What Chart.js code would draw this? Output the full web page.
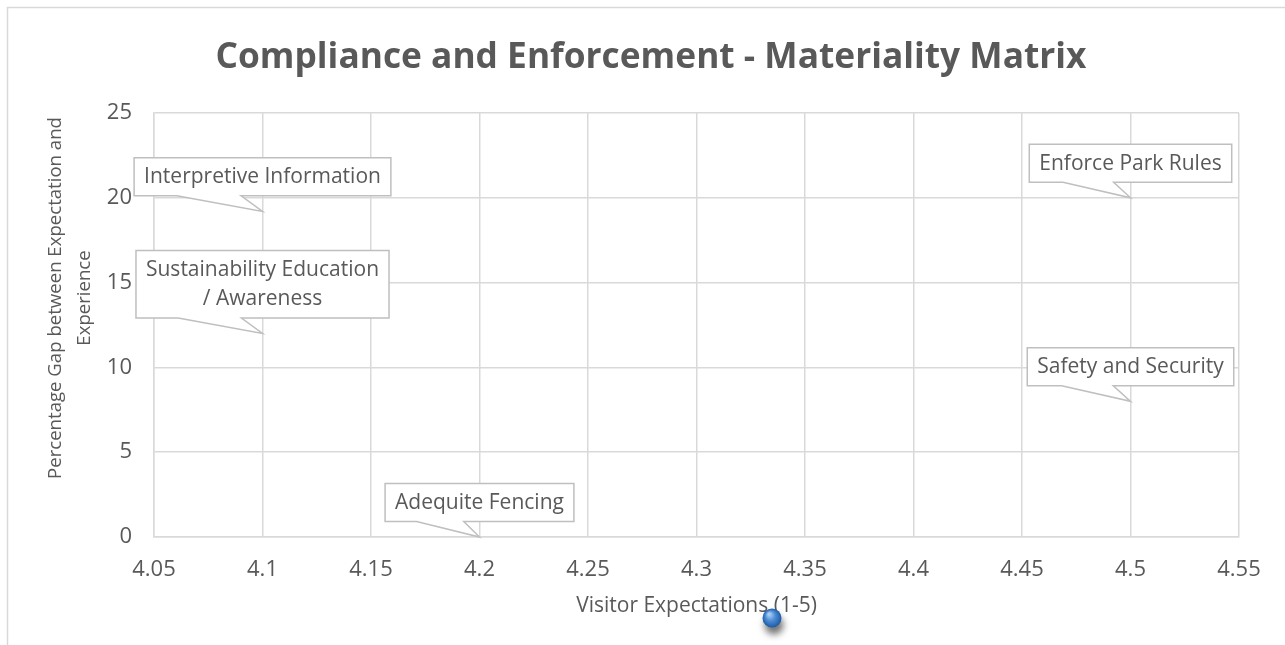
<!DOCTYPE html>
<html>
<head>
<meta charset="utf-8">
<title>Compliance and Enforcement - Materiality Matrix</title>
<script src="https://cdn.jsdelivr.net/npm/chart.js@4.4.1/dist/chart.umd.min.js"></script>
<style>
  html, body { margin: 0; padding: 0; background: #ffffff; }
  #wrap { width: 1285px; height: 645px; position: relative; }
  canvas { display: block; }
</style>
</head>
<body>
<div id="wrap"><canvas id="matrix" width="1285" height="645"></canvas></div>
<script>
// Issues surveyed, their visitor expectation score and the gap (%) to experience
const issueNames = [
  'Interpretive Information',
  'Sustainability Education / Awareness',
  'Adequite Fencing',
  'Enforce Park Rules',
  'Safety and Security'
];
const visitorExpectation = [4.1, 4.1, 4.2, 4.5, 4.5];
const gapPercent = [19.2, 12, 0, 20, 8];

// Axis ticks
const xTickValues = [4.05, 4.1, 4.15, 4.2, 4.25, 4.3, 4.35, 4.4, 4.45, 4.5, 4.55];
const xTickLabels = ['4.05', '4.1', '4.15', '4.2', '4.25', '4.3', '4.35', '4.4', '4.45', '4.5', '4.55'];
const yTickValues = [0, 5, 10, 15, 20, 25];
const yTickLabels = ['0', '5', '10', '15', '20', '25'];

const chartTitle = 'Compliance and Enforcement - Materiality Matrix';
const xAxisTitle = 'Visitor Expectations (1-5)';
const yAxisTitle = ['Percentage Gap between Expectation and', 'Experience'];

const FONT = '"Open Sans", "DejaVu Sans", sans-serif';
const TEXT = '#595959';
const GRID = '#d9d9d9';

// Frame, title and axis titles
const decorPlugin = {
  id: 'decor',
  beforeDraw(chart) {
    const ctx = chart.ctx;
    ctx.save();
    ctx.fillStyle = '#ffffff';
    ctx.fillRect(0, 0, chart.width, chart.height);
    ctx.strokeStyle = GRID;
    ctx.lineWidth = 1.5;
    ctx.beginPath();
    ctx.moveTo(7.5, chart.height);
    ctx.lineTo(7.5, 7.5);
    ctx.lineTo(chart.width, 7.5);
    ctx.stroke();
    ctx.restore();
  },
  afterDraw(chart) {
    const ctx = chart.ctx;
    const area = chart.chartArea;
    ctx.save();
    ctx.fillStyle = TEXT;
    ctx.textAlign = 'center';
    ctx.textBaseline = 'middle';
    ctx.font = 'bold 35.3px ' + FONT;
    ctx.fillText(chartTitle, 651, 58);

    ctx.font = '21px ' + FONT;
    ctx.fillText(xAxisTitle, (area.left + area.right) / 2, 606);

    ctx.font = '18.6px ' + FONT;
    ctx.translate(70, 298);
    ctx.rotate(-Math.PI / 2);
    ctx.fillText(yAxisTitle[0], 0, -14);
    ctx.fillText(yAxisTitle[1], 0, 15);
    ctx.restore();

    // small glossy marker under the axis title
    ctx.save();
    const cx = 772, cy = 618, r = 9.5;
    ctx.shadowColor = 'rgba(0,0,0,0.55)';
    ctx.shadowBlur = 7;
    ctx.shadowOffsetX = 2;
    ctx.shadowOffsetY = 7;
    const g = ctx.createRadialGradient(cx - 3, cy - 4, 1, cx, cy, r);
    g.addColorStop(0, '#a9cdf2');
    g.addColorStop(0.45, '#4f8fd6');
    g.addColorStop(1, '#1d5aa6');
    ctx.fillStyle = g;
    ctx.beginPath();
    ctx.arc(cx, cy, r, 0, Math.PI * 2);
    ctx.fill();
    ctx.restore();
  }
};

function wrapText(ctx, text, maxWidth) {
  const words = text.split(' ');
  const lines = [];
  let cur = '';
  words.forEach(w => {
    const test = cur ? cur + ' ' + w : w;
    if (cur && ctx.measureText(test).width > maxWidth) {
      lines.push(cur);
      cur = w;
    } else {
      cur = test;
    }
  });
  if (cur) lines.push(cur);
  return lines;
}

// Callout labels pointing at each data point
const calloutPlugin = {
  id: 'callouts',
  afterDatasetsDraw(chart) {
    const ctx = chart.ctx;
    const xs = chart.scales.x, ys = chart.scales.y;
    ctx.save();
    ctx.font = '21px ' + FONT;
    issueNames.forEach((name, i) => {
      const px = xs.getPixelForValue(visitorExpectation[i]);
      const py = ys.getPixelForValue(gapPercent[i]);
      const lines = wrapText(ctx, name, 240);
      const lineH = 29.5;
      const textW = Math.max(...lines.map(l => ctx.measureText(l).width));
      const w = textW + 20;
      const h = 38 + (lines.length - 1) * lineH;
      const left = px - w / 2;
      const bottom = py - 15.5;
      const top = bottom - h;
      ctx.beginPath();
      ctx.moveTo(left, top);
      ctx.lineTo(left + w, top);
      ctx.lineTo(left + w, bottom);
      ctx.lineTo(left + w * 5 / 12, bottom);
      ctx.lineTo(px, py);
      ctx.lineTo(left + w / 6, bottom);
      ctx.lineTo(left, bottom);
      ctx.closePath();
      ctx.fillStyle = '#ffffff';
      ctx.fill();
      ctx.strokeStyle = '#bfbfbf';
      ctx.lineWidth = 1.5;
      ctx.stroke();
      ctx.fillStyle = TEXT;
      ctx.textAlign = 'center';
      ctx.textBaseline = 'middle';
      lines.forEach((l, k) => ctx.fillText(l, px, top + 19.5 + k * lineH));
    });
    ctx.restore();
  }
};

new Chart(document.getElementById('matrix'), {
  type: 'scatter',
  data: {
    datasets: [{
      label: 'Issues',
      data: visitorExpectation.map((x, i) => ({ x: x, y: gapPercent[i] })),
      pointRadius: 0,
      pointHoverRadius: 0,
      backgroundColor: '#4472c4'
    }]
  },
  options: {
    responsive: false,
    animation: false,
    events: [],
    layout: { padding: { left: 0, top: 113, right: 46, bottom: 0 } },
    plugins: {
      legend: { display: false },
      tooltip: { enabled: false },
      title: { display: false }
    },
    scales: {
      x: {
        type: 'linear',
        min: 4.05,
        max: 4.55,
        afterBuildTicks: s => { s.ticks = xTickValues.map(v => ({ value: v })); },
        afterFit: s => { s.height = 108; },
        ticks: {
          callback: (v, i) => xTickLabels[i],
          color: TEXT,
          font: { family: FONT, size: 22 },
          padding: 20,
          maxRotation: 0,
          autoSkip: false
        },
        grid: { color: GRID, lineWidth: 1.5, drawTicks: false },
        border: { color: GRID, width: 1.5 }
      },
      y: {
        type: 'linear',
        min: 0,
        max: 25,
        afterBuildTicks: s => { s.ticks = yTickValues.map(v => ({ value: v })); },
        afterFit: s => { s.width = 154; },
        ticks: {
          callback: (v, i) => yTickLabels[i],
          color: TEXT,
          font: { family: FONT, size: 22 },
          padding: 22,
          autoSkip: false
        },
        grid: { color: GRID, lineWidth: 1.5, drawTicks: false },
        border: { color: GRID, width: 1.5 }
      }
    }
  },
  plugins: [decorPlugin, calloutPlugin]
});
</script>
</body>
</html>
